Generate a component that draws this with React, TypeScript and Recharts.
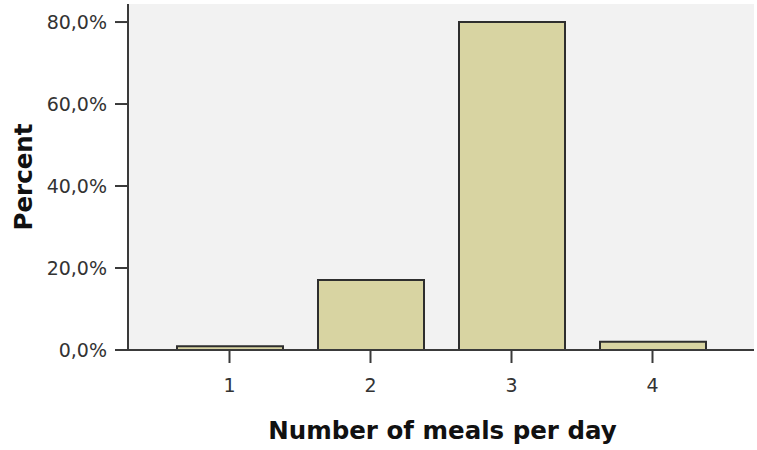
import React from 'react';
import { BarChart, Bar, XAxis, YAxis, CartesianGrid } from 'recharts';

const categories: string[] = ['1', '2', '3', '4'];
const percents: number[] = [0.9, 17.1, 80.0, 2.0];
const yTicks: number[] = [0, 20, 40, 60, 80];
const xTitle = 'Number of meals per day';
const yTitle = 'Percent';

const data = categories.map((c, i) => ({ cat: c, pct: percents[i] }));

const fmt = (v: number) => v.toFixed(1).replace('.', ',') + '%';

const XTitle = (props: any) => {
  const vb = props.viewBox || {};
  return (
    <text x={vb.x + vb.width / 2 + 1.5} y={vb.y + 89} textAnchor="middle"
      fontFamily="DejaVu Sans" fontWeight="bold" fontSize={24.5} fill="#111">
      {xTitle}
    </text>
  );
};

const YTitle = (props: any) => {
  const vb = props.viewBox || {};
  const cx = 32;
  const cy = vb.y + vb.height / 2;
  return (
    <text x={cx} y={cy} textAnchor="middle" transform={`rotate(-90, ${cx}, ${cy})`}
      fontFamily="DejaVu Sans" fontWeight="bold" fontSize={24.5} fill="#111">
      {yTitle}
    </text>
  );
};

export default function App() {
  return (
    <div style={{ position: 'absolute', left: 0, top: 0, width: 757, height: 450, background: '#fff' }}>
      <BarChart width={757} height={450} data={data} margin={{ top: 4, right: 3, bottom: 0, left: 0 }}>
        <CartesianGrid horizontal={false} vertical={false} fill="#f2f2f2" stroke="none" />
        <XAxis
          dataKey="cat"
          height={100}
          padding={{ left: 31, right: 31 }}
          axisLine={{ stroke: '#3a3a3a', strokeWidth: 2 }}
          tickLine={{ stroke: '#3a3a3a', strokeWidth: 2 }}
          tickSize={13}
          tickMargin={16}
          tick={{ fill: '#333', fontSize: 19, fontFamily: 'DejaVu Sans' }}
          label={<XTitle />}
        />
        <XAxis xAxisId="top" dataKey="cat" orientation="top" height={0} tick={false} tickLine={false}
          axisLine={{ stroke: '#a6a6a6', strokeWidth: 2 }} />
        <YAxis
          width={128}
          domain={[0, 84.4]}
          ticks={yTicks}
          allowDataOverflow
          tickFormatter={fmt}
          axisLine={{ stroke: '#3a3a3a', strokeWidth: 2 }}
          tickLine={{ stroke: '#3a3a3a', strokeWidth: 2 }}
          tickSize={13}
          tickMargin={8}
          tick={{ fill: '#333', fontSize: 19, fontFamily: 'DejaVu Sans' }}
          label={<YTitle />}
        />
        <YAxis yAxisId="right" orientation="right" width={0} domain={[0, 84.4]} tick={false} tickLine={false}
          axisLine={{ stroke: '#a6a6a6', strokeWidth: 2 }} />
        <Bar dataKey="pct" fill="#d8d4a2" stroke="#2e2e2e" strokeWidth={2} barSize={106} isAnimationActive={false} />
      </BarChart>
    </div>
  );
}
